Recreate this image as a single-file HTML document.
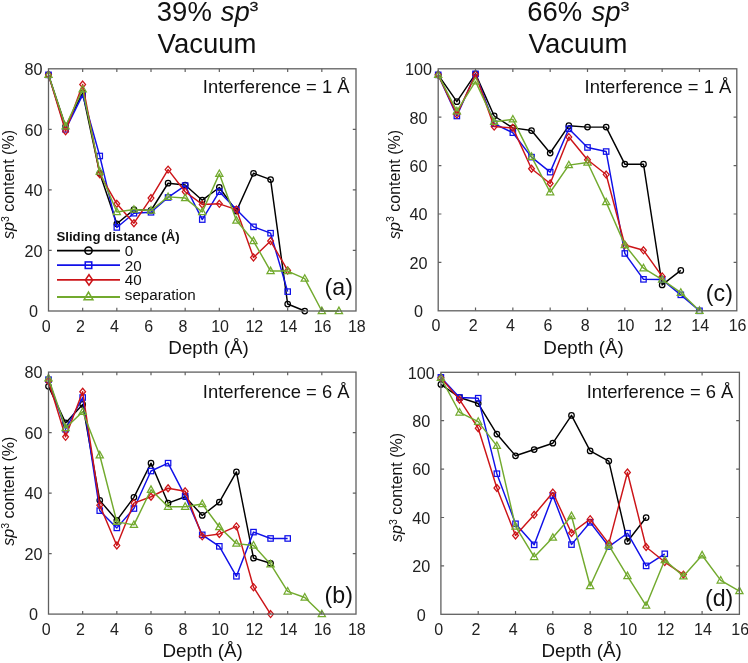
<!DOCTYPE html>
<html><head><meta charset="utf-8"><style>
html,body{margin:0;padding:0;background:#fff;}
svg{display:block;will-change:transform;}
text{font-family:"Liberation Sans", sans-serif;}
</style></head><body>
<svg width="748" height="663" viewBox="0 0 748 663">
<rect width="748" height="663" fill="#fff"/>
<g>
<polyline points="48.50,74.86 65.58,126.32 82.67,93.02 99.75,173.25 116.83,223.81 133.92,209.58 151.00,210.49 168.08,183.24 185.17,185.06 202.25,200.19 219.33,187.48 236.42,211.09 253.50,173.25 270.58,179.61 287.67,304.04 304.75,311.00" fill="none" stroke="#000000" stroke-width="1.45" stroke-linejoin="round"/>
<circle cx="48.50" cy="74.86" r="2.75" fill="none" stroke="#000000" stroke-width="1.25"/>
<circle cx="65.58" cy="126.32" r="2.75" fill="none" stroke="#000000" stroke-width="1.25"/>
<circle cx="82.67" cy="93.02" r="2.75" fill="none" stroke="#000000" stroke-width="1.25"/>
<circle cx="99.75" cy="173.25" r="2.75" fill="none" stroke="#000000" stroke-width="1.25"/>
<circle cx="116.83" cy="223.81" r="2.75" fill="none" stroke="#000000" stroke-width="1.25"/>
<circle cx="133.92" cy="209.58" r="2.75" fill="none" stroke="#000000" stroke-width="1.25"/>
<circle cx="151.00" cy="210.49" r="2.75" fill="none" stroke="#000000" stroke-width="1.25"/>
<circle cx="168.08" cy="183.24" r="2.75" fill="none" stroke="#000000" stroke-width="1.25"/>
<circle cx="185.17" cy="185.06" r="2.75" fill="none" stroke="#000000" stroke-width="1.25"/>
<circle cx="202.25" cy="200.19" r="2.75" fill="none" stroke="#000000" stroke-width="1.25"/>
<circle cx="219.33" cy="187.48" r="2.75" fill="none" stroke="#000000" stroke-width="1.25"/>
<circle cx="236.42" cy="211.09" r="2.75" fill="none" stroke="#000000" stroke-width="1.25"/>
<circle cx="253.50" cy="173.25" r="2.75" fill="none" stroke="#000000" stroke-width="1.25"/>
<circle cx="270.58" cy="179.61" r="2.75" fill="none" stroke="#000000" stroke-width="1.25"/>
<circle cx="287.67" cy="304.04" r="2.75" fill="none" stroke="#000000" stroke-width="1.25"/>
<circle cx="304.75" cy="311.00" r="2.75" fill="none" stroke="#000000" stroke-width="1.25"/>
<polyline points="48.50,74.86 65.58,129.35 82.67,94.84 99.75,155.99 116.83,227.44 133.92,213.21 151.00,212.30 168.08,197.47 185.17,185.66 202.25,219.57 219.33,191.72 236.42,209.58 253.50,226.84 270.58,233.19 287.67,291.62" fill="none" stroke="#1010e8" stroke-width="1.45" stroke-linejoin="round"/>
<rect x="45.80" y="72.16" width="5.40" height="5.40" fill="none" stroke="#1010e8" stroke-width="1.25"/>
<rect x="62.88" y="126.65" width="5.40" height="5.40" fill="none" stroke="#1010e8" stroke-width="1.25"/>
<rect x="79.97" y="92.14" width="5.40" height="5.40" fill="none" stroke="#1010e8" stroke-width="1.25"/>
<rect x="97.05" y="153.29" width="5.40" height="5.40" fill="none" stroke="#1010e8" stroke-width="1.25"/>
<rect x="114.13" y="224.74" width="5.40" height="5.40" fill="none" stroke="#1010e8" stroke-width="1.25"/>
<rect x="131.22" y="210.51" width="5.40" height="5.40" fill="none" stroke="#1010e8" stroke-width="1.25"/>
<rect x="148.30" y="209.60" width="5.40" height="5.40" fill="none" stroke="#1010e8" stroke-width="1.25"/>
<rect x="165.38" y="194.77" width="5.40" height="5.40" fill="none" stroke="#1010e8" stroke-width="1.25"/>
<rect x="182.47" y="182.96" width="5.40" height="5.40" fill="none" stroke="#1010e8" stroke-width="1.25"/>
<rect x="199.55" y="216.87" width="5.40" height="5.40" fill="none" stroke="#1010e8" stroke-width="1.25"/>
<rect x="216.63" y="189.02" width="5.40" height="5.40" fill="none" stroke="#1010e8" stroke-width="1.25"/>
<rect x="233.72" y="206.88" width="5.40" height="5.40" fill="none" stroke="#1010e8" stroke-width="1.25"/>
<rect x="250.80" y="224.14" width="5.40" height="5.40" fill="none" stroke="#1010e8" stroke-width="1.25"/>
<rect x="267.88" y="230.49" width="5.40" height="5.40" fill="none" stroke="#1010e8" stroke-width="1.25"/>
<rect x="284.97" y="288.92" width="5.40" height="5.40" fill="none" stroke="#1010e8" stroke-width="1.25"/>
<polyline points="48.50,74.86 65.58,131.17 82.67,84.54 99.75,174.16 116.83,203.83 133.92,223.20 151.00,198.07 168.08,169.62 185.17,191.72 202.25,204.43 219.33,203.83 236.42,209.58 253.50,257.41 270.58,241.06 287.67,270.43" fill="none" stroke="#cc1418" stroke-width="1.45" stroke-linejoin="round"/>
<path d="M48.50 71.36L51.40 74.86L48.50 78.36L45.60 74.86Z" fill="none" stroke="#cc1418" stroke-width="1.25"/>
<path d="M65.58 127.67L68.48 131.17L65.58 134.67L62.68 131.17Z" fill="none" stroke="#cc1418" stroke-width="1.25"/>
<path d="M82.67 81.04L85.57 84.54L82.67 88.04L79.77 84.54Z" fill="none" stroke="#cc1418" stroke-width="1.25"/>
<path d="M99.75 170.66L102.65 174.16L99.75 177.66L96.85 174.16Z" fill="none" stroke="#cc1418" stroke-width="1.25"/>
<path d="M116.83 200.33L119.73 203.83L116.83 207.33L113.93 203.83Z" fill="none" stroke="#cc1418" stroke-width="1.25"/>
<path d="M133.92 219.70L136.82 223.20L133.92 226.70L131.02 223.20Z" fill="none" stroke="#cc1418" stroke-width="1.25"/>
<path d="M151.00 194.57L153.90 198.07L151.00 201.57L148.10 198.07Z" fill="none" stroke="#cc1418" stroke-width="1.25"/>
<path d="M168.08 166.12L170.98 169.62L168.08 173.12L165.18 169.62Z" fill="none" stroke="#cc1418" stroke-width="1.25"/>
<path d="M185.17 188.22L188.07 191.72L185.17 195.22L182.27 191.72Z" fill="none" stroke="#cc1418" stroke-width="1.25"/>
<path d="M202.25 200.93L205.15 204.43L202.25 207.93L199.35 204.43Z" fill="none" stroke="#cc1418" stroke-width="1.25"/>
<path d="M219.33 200.33L222.23 203.83L219.33 207.33L216.43 203.83Z" fill="none" stroke="#cc1418" stroke-width="1.25"/>
<path d="M236.42 206.08L239.32 209.58L236.42 213.08L233.52 209.58Z" fill="none" stroke="#cc1418" stroke-width="1.25"/>
<path d="M253.50 253.91L256.40 257.41L253.50 260.91L250.60 257.41Z" fill="none" stroke="#cc1418" stroke-width="1.25"/>
<path d="M270.58 237.56L273.48 241.06L270.58 244.56L267.68 241.06Z" fill="none" stroke="#cc1418" stroke-width="1.25"/>
<path d="M287.67 266.93L290.57 270.43L287.67 273.93L284.77 270.43Z" fill="none" stroke="#cc1418" stroke-width="1.25"/>
<polyline points="48.50,74.86 65.58,126.32 82.67,89.39 99.75,171.43 116.83,212.00 133.92,209.58 151.00,210.49 168.08,196.86 185.17,198.07 202.25,212.00 219.33,173.85 236.42,220.48 253.50,241.06 270.58,271.04 287.67,271.04 304.75,278.61 321.83,311.00 338.92,311.00" fill="none" stroke="#72aa2e" stroke-width="1.45" stroke-linejoin="round"/>
<path d="M48.50 70.96L52.10 77.46L44.90 77.46Z" fill="none" stroke="#72aa2e" stroke-width="1.25" stroke-linejoin="miter"/>
<path d="M65.58 122.42L69.18 128.92L61.98 128.92Z" fill="none" stroke="#72aa2e" stroke-width="1.25" stroke-linejoin="miter"/>
<path d="M82.67 85.49L86.27 91.99L79.07 91.99Z" fill="none" stroke="#72aa2e" stroke-width="1.25" stroke-linejoin="miter"/>
<path d="M99.75 167.53L103.35 174.03L96.15 174.03Z" fill="none" stroke="#72aa2e" stroke-width="1.25" stroke-linejoin="miter"/>
<path d="M116.83 208.10L120.43 214.60L113.23 214.60Z" fill="none" stroke="#72aa2e" stroke-width="1.25" stroke-linejoin="miter"/>
<path d="M133.92 205.68L137.52 212.18L130.32 212.18Z" fill="none" stroke="#72aa2e" stroke-width="1.25" stroke-linejoin="miter"/>
<path d="M151.00 206.59L154.60 213.09L147.40 213.09Z" fill="none" stroke="#72aa2e" stroke-width="1.25" stroke-linejoin="miter"/>
<path d="M168.08 192.96L171.68 199.46L164.48 199.46Z" fill="none" stroke="#72aa2e" stroke-width="1.25" stroke-linejoin="miter"/>
<path d="M185.17 194.17L188.77 200.67L181.57 200.67Z" fill="none" stroke="#72aa2e" stroke-width="1.25" stroke-linejoin="miter"/>
<path d="M202.25 208.10L205.85 214.60L198.65 214.60Z" fill="none" stroke="#72aa2e" stroke-width="1.25" stroke-linejoin="miter"/>
<path d="M219.33 169.95L222.93 176.45L215.73 176.45Z" fill="none" stroke="#72aa2e" stroke-width="1.25" stroke-linejoin="miter"/>
<path d="M236.42 216.58L240.02 223.08L232.82 223.08Z" fill="none" stroke="#72aa2e" stroke-width="1.25" stroke-linejoin="miter"/>
<path d="M253.50 237.16L257.10 243.66L249.90 243.66Z" fill="none" stroke="#72aa2e" stroke-width="1.25" stroke-linejoin="miter"/>
<path d="M270.58 267.14L274.18 273.64L266.98 273.64Z" fill="none" stroke="#72aa2e" stroke-width="1.25" stroke-linejoin="miter"/>
<path d="M287.67 267.14L291.27 273.64L284.07 273.64Z" fill="none" stroke="#72aa2e" stroke-width="1.25" stroke-linejoin="miter"/>
<path d="M304.75 274.71L308.35 281.21L301.15 281.21Z" fill="none" stroke="#72aa2e" stroke-width="1.25" stroke-linejoin="miter"/>
<path d="M321.83 307.10L325.43 313.60L318.23 313.60Z" fill="none" stroke="#72aa2e" stroke-width="1.25" stroke-linejoin="miter"/>
<path d="M338.92 307.10L342.52 313.60L335.32 313.60Z" fill="none" stroke="#72aa2e" stroke-width="1.25" stroke-linejoin="miter"/>
</g>
<rect x="48.5" y="68.8" width="307.50" height="242.20" fill="none" stroke="#606060" stroke-width="1.3"/>
<path d="M82.67 311.0v-3.2M82.67 68.8v3.2M116.83 311.0v-3.2M116.83 68.8v3.2M151.00 311.0v-3.2M151.00 68.8v3.2M185.17 311.0v-3.2M185.17 68.8v3.2M219.33 311.0v-3.2M219.33 68.8v3.2M253.50 311.0v-3.2M253.50 68.8v3.2M287.67 311.0v-3.2M287.67 68.8v3.2M321.83 311.0v-3.2M321.83 68.8v3.2M48.5 250.45h3.2M356.0 250.45h-3.2M48.5 189.90h3.2M356.0 189.90h-3.2M48.5 129.35h3.2M356.0 129.35h-3.2" stroke="#606060" stroke-width="1.2" fill="none"/>
<text x="46.20" y="331.60" text-anchor="middle" font-size="16" fill="#222">0</text>
<text x="80.37" y="331.60" text-anchor="middle" font-size="16" fill="#222">2</text>
<text x="114.53" y="331.60" text-anchor="middle" font-size="16" fill="#222">4</text>
<text x="148.70" y="331.60" text-anchor="middle" font-size="16" fill="#222">6</text>
<text x="182.87" y="331.60" text-anchor="middle" font-size="16" fill="#222">8</text>
<text x="220.13" y="331.60" text-anchor="middle" font-size="16" fill="#222">10</text>
<text x="254.30" y="331.60" text-anchor="middle" font-size="16" fill="#222">12</text>
<text x="288.47" y="331.60" text-anchor="middle" font-size="16" fill="#222">14</text>
<text x="322.63" y="331.60" text-anchor="middle" font-size="16" fill="#222">16</text>
<text x="356.80" y="331.60" text-anchor="middle" font-size="16" fill="#222">18</text>
<text x="33.40" y="317.30" text-anchor="middle" font-size="16.2" fill="#222">0</text>
<text x="33.40" y="256.75" text-anchor="middle" font-size="16.2" fill="#222">20</text>
<text x="33.40" y="196.20" text-anchor="middle" font-size="16.2" fill="#222">40</text>
<text x="33.40" y="135.65" text-anchor="middle" font-size="16.2" fill="#222">60</text>
<text x="33.40" y="75.10" text-anchor="middle" font-size="16.2" fill="#222">80</text>
<text x="208.50" y="353.50" text-anchor="middle" font-size="18.8" fill="#111">Depth (Å)</text>
<text transform="translate(14.30,184.50) rotate(-90)" text-anchor="middle" font-size="16" fill="#111"><tspan font-style="italic">sp</tspan><tspan font-size="10.5" dy="-5.8">3</tspan><tspan dy="5.8"> content (%)</tspan></text>
<text x="349.50" y="92.50" text-anchor="end" font-size="18.4" fill="#111">Interference = 1 Å</text>
<text x="352.90" y="295.10" text-anchor="end" font-size="23.2" fill="#111">(a)</text>
<g>
<polyline points="48.50,386.32 65.58,422.92 82.67,404.47 99.75,500.36 116.83,520.33 133.92,497.34 151.00,463.15 168.08,503.08 185.17,496.73 202.25,515.49 219.33,502.18 236.42,471.93 253.50,558.14 270.58,563.28" fill="none" stroke="#000000" stroke-width="1.45" stroke-linejoin="round"/>
<circle cx="48.50" cy="386.32" r="2.75" fill="none" stroke="#000000" stroke-width="1.25"/>
<circle cx="65.58" cy="422.92" r="2.75" fill="none" stroke="#000000" stroke-width="1.25"/>
<circle cx="82.67" cy="404.47" r="2.75" fill="none" stroke="#000000" stroke-width="1.25"/>
<circle cx="99.75" cy="500.36" r="2.75" fill="none" stroke="#000000" stroke-width="1.25"/>
<circle cx="116.83" cy="520.33" r="2.75" fill="none" stroke="#000000" stroke-width="1.25"/>
<circle cx="133.92" cy="497.34" r="2.75" fill="none" stroke="#000000" stroke-width="1.25"/>
<circle cx="151.00" cy="463.15" r="2.75" fill="none" stroke="#000000" stroke-width="1.25"/>
<circle cx="168.08" cy="503.08" r="2.75" fill="none" stroke="#000000" stroke-width="1.25"/>
<circle cx="185.17" cy="496.73" r="2.75" fill="none" stroke="#000000" stroke-width="1.25"/>
<circle cx="202.25" cy="515.49" r="2.75" fill="none" stroke="#000000" stroke-width="1.25"/>
<circle cx="219.33" cy="502.18" r="2.75" fill="none" stroke="#000000" stroke-width="1.25"/>
<circle cx="236.42" cy="471.93" r="2.75" fill="none" stroke="#000000" stroke-width="1.25"/>
<circle cx="253.50" cy="558.14" r="2.75" fill="none" stroke="#000000" stroke-width="1.25"/>
<circle cx="270.58" cy="563.28" r="2.75" fill="none" stroke="#000000" stroke-width="1.25"/>
<polyline points="48.50,379.66 65.58,429.27 82.67,397.51 99.75,510.64 116.83,527.89 133.92,508.53 151.00,471.02 168.08,463.15 185.17,496.12 202.25,534.85 219.33,546.34 236.42,576.29 253.50,532.12 270.58,538.48 287.67,538.48" fill="none" stroke="#1010e8" stroke-width="1.45" stroke-linejoin="round"/>
<rect x="45.80" y="376.96" width="5.40" height="5.40" fill="none" stroke="#1010e8" stroke-width="1.25"/>
<rect x="62.88" y="426.57" width="5.40" height="5.40" fill="none" stroke="#1010e8" stroke-width="1.25"/>
<rect x="79.97" y="394.81" width="5.40" height="5.40" fill="none" stroke="#1010e8" stroke-width="1.25"/>
<rect x="97.05" y="507.94" width="5.40" height="5.40" fill="none" stroke="#1010e8" stroke-width="1.25"/>
<rect x="114.13" y="525.19" width="5.40" height="5.40" fill="none" stroke="#1010e8" stroke-width="1.25"/>
<rect x="131.22" y="505.83" width="5.40" height="5.40" fill="none" stroke="#1010e8" stroke-width="1.25"/>
<rect x="148.30" y="468.32" width="5.40" height="5.40" fill="none" stroke="#1010e8" stroke-width="1.25"/>
<rect x="165.38" y="460.45" width="5.40" height="5.40" fill="none" stroke="#1010e8" stroke-width="1.25"/>
<rect x="182.47" y="493.43" width="5.40" height="5.40" fill="none" stroke="#1010e8" stroke-width="1.25"/>
<rect x="199.55" y="532.14" width="5.40" height="5.40" fill="none" stroke="#1010e8" stroke-width="1.25"/>
<rect x="216.63" y="543.64" width="5.40" height="5.40" fill="none" stroke="#1010e8" stroke-width="1.25"/>
<rect x="233.72" y="573.59" width="5.40" height="5.40" fill="none" stroke="#1010e8" stroke-width="1.25"/>
<rect x="250.80" y="529.42" width="5.40" height="5.40" fill="none" stroke="#1010e8" stroke-width="1.25"/>
<rect x="267.88" y="535.77" width="5.40" height="5.40" fill="none" stroke="#1010e8" stroke-width="1.25"/>
<rect x="284.97" y="535.77" width="5.40" height="5.40" fill="none" stroke="#1010e8" stroke-width="1.25"/>
<polyline points="48.50,381.18 65.58,436.84 82.67,391.76 99.75,505.20 116.83,545.43 133.92,503.08 151.00,496.73 168.08,488.26 185.17,491.29 202.25,536.36 219.33,533.94 236.42,526.38 253.50,587.18 270.58,614.10" fill="none" stroke="#cc1418" stroke-width="1.45" stroke-linejoin="round"/>
<path d="M48.50 377.68L51.40 381.18L48.50 384.68L45.60 381.18Z" fill="none" stroke="#cc1418" stroke-width="1.25"/>
<path d="M65.58 433.34L68.48 436.84L65.58 440.34L62.68 436.84Z" fill="none" stroke="#cc1418" stroke-width="1.25"/>
<path d="M82.67 388.26L85.57 391.76L82.67 395.26L79.77 391.76Z" fill="none" stroke="#cc1418" stroke-width="1.25"/>
<path d="M99.75 501.70L102.65 505.20L99.75 508.70L96.85 505.20Z" fill="none" stroke="#cc1418" stroke-width="1.25"/>
<path d="M116.83 541.93L119.73 545.43L116.83 548.93L113.93 545.43Z" fill="none" stroke="#cc1418" stroke-width="1.25"/>
<path d="M133.92 499.58L136.82 503.08L133.92 506.58L131.02 503.08Z" fill="none" stroke="#cc1418" stroke-width="1.25"/>
<path d="M151.00 493.23L153.90 496.73L151.00 500.23L148.10 496.73Z" fill="none" stroke="#cc1418" stroke-width="1.25"/>
<path d="M168.08 484.76L170.98 488.26L168.08 491.76L165.18 488.26Z" fill="none" stroke="#cc1418" stroke-width="1.25"/>
<path d="M185.17 487.79L188.07 491.29L185.17 494.79L182.27 491.29Z" fill="none" stroke="#cc1418" stroke-width="1.25"/>
<path d="M202.25 532.86L205.15 536.36L202.25 539.86L199.35 536.36Z" fill="none" stroke="#cc1418" stroke-width="1.25"/>
<path d="M219.33 530.44L222.23 533.94L219.33 537.44L216.43 533.94Z" fill="none" stroke="#cc1418" stroke-width="1.25"/>
<path d="M236.42 522.88L239.32 526.38L236.42 529.88L233.52 526.38Z" fill="none" stroke="#cc1418" stroke-width="1.25"/>
<path d="M253.50 583.68L256.40 587.18L253.50 590.68L250.60 587.18Z" fill="none" stroke="#cc1418" stroke-width="1.25"/>
<path d="M270.58 610.60L273.48 614.10L270.58 617.60L267.68 614.10Z" fill="none" stroke="#cc1418" stroke-width="1.25"/>
<polyline points="48.50,378.15 65.58,428.06 82.67,411.73 99.75,455.29 116.83,521.84 133.92,524.86 151.00,489.77 168.08,506.71 185.17,506.71 202.25,503.99 219.33,526.98 236.42,543.62 253.50,545.43 270.58,564.19 287.67,591.41 304.75,597.46 321.83,614.10" fill="none" stroke="#72aa2e" stroke-width="1.45" stroke-linejoin="round"/>
<path d="M48.50 374.25L52.10 380.75L44.90 380.75Z" fill="none" stroke="#72aa2e" stroke-width="1.25" stroke-linejoin="miter"/>
<path d="M65.58 424.16L69.18 430.66L61.98 430.66Z" fill="none" stroke="#72aa2e" stroke-width="1.25" stroke-linejoin="miter"/>
<path d="M82.67 407.83L86.27 414.33L79.07 414.33Z" fill="none" stroke="#72aa2e" stroke-width="1.25" stroke-linejoin="miter"/>
<path d="M99.75 451.39L103.35 457.89L96.15 457.89Z" fill="none" stroke="#72aa2e" stroke-width="1.25" stroke-linejoin="miter"/>
<path d="M116.83 517.94L120.43 524.44L113.23 524.44Z" fill="none" stroke="#72aa2e" stroke-width="1.25" stroke-linejoin="miter"/>
<path d="M133.92 520.96L137.52 527.46L130.32 527.46Z" fill="none" stroke="#72aa2e" stroke-width="1.25" stroke-linejoin="miter"/>
<path d="M151.00 485.87L154.60 492.37L147.40 492.37Z" fill="none" stroke="#72aa2e" stroke-width="1.25" stroke-linejoin="miter"/>
<path d="M168.08 502.81L171.68 509.31L164.48 509.31Z" fill="none" stroke="#72aa2e" stroke-width="1.25" stroke-linejoin="miter"/>
<path d="M185.17 502.81L188.77 509.31L181.57 509.31Z" fill="none" stroke="#72aa2e" stroke-width="1.25" stroke-linejoin="miter"/>
<path d="M202.25 500.09L205.85 506.59L198.65 506.59Z" fill="none" stroke="#72aa2e" stroke-width="1.25" stroke-linejoin="miter"/>
<path d="M219.33 523.08L222.93 529.58L215.73 529.58Z" fill="none" stroke="#72aa2e" stroke-width="1.25" stroke-linejoin="miter"/>
<path d="M236.42 539.72L240.02 546.22L232.82 546.22Z" fill="none" stroke="#72aa2e" stroke-width="1.25" stroke-linejoin="miter"/>
<path d="M253.50 541.53L257.10 548.03L249.90 548.03Z" fill="none" stroke="#72aa2e" stroke-width="1.25" stroke-linejoin="miter"/>
<path d="M270.58 560.29L274.18 566.79L266.98 566.79Z" fill="none" stroke="#72aa2e" stroke-width="1.25" stroke-linejoin="miter"/>
<path d="M287.67 587.51L291.27 594.01L284.07 594.01Z" fill="none" stroke="#72aa2e" stroke-width="1.25" stroke-linejoin="miter"/>
<path d="M304.75 593.56L308.35 600.06L301.15 600.06Z" fill="none" stroke="#72aa2e" stroke-width="1.25" stroke-linejoin="miter"/>
<path d="M321.83 610.20L325.43 616.70L318.23 616.70Z" fill="none" stroke="#72aa2e" stroke-width="1.25" stroke-linejoin="miter"/>
</g>
<rect x="48.5" y="372.1" width="307.50" height="242.00" fill="none" stroke="#606060" stroke-width="1.3"/>
<path d="M82.67 614.1v-3.2M82.67 372.1v3.2M116.83 614.1v-3.2M116.83 372.1v3.2M151.00 614.1v-3.2M151.00 372.1v3.2M185.17 614.1v-3.2M185.17 372.1v3.2M219.33 614.1v-3.2M219.33 372.1v3.2M253.50 614.1v-3.2M253.50 372.1v3.2M287.67 614.1v-3.2M287.67 372.1v3.2M321.83 614.1v-3.2M321.83 372.1v3.2M48.5 553.60h3.2M356.0 553.60h-3.2M48.5 493.10h3.2M356.0 493.10h-3.2M48.5 432.60h3.2M356.0 432.60h-3.2" stroke="#606060" stroke-width="1.2" fill="none"/>
<text x="46.20" y="634.70" text-anchor="middle" font-size="16" fill="#222">0</text>
<text x="80.37" y="634.70" text-anchor="middle" font-size="16" fill="#222">2</text>
<text x="114.53" y="634.70" text-anchor="middle" font-size="16" fill="#222">4</text>
<text x="148.70" y="634.70" text-anchor="middle" font-size="16" fill="#222">6</text>
<text x="182.87" y="634.70" text-anchor="middle" font-size="16" fill="#222">8</text>
<text x="220.13" y="634.70" text-anchor="middle" font-size="16" fill="#222">10</text>
<text x="254.30" y="634.70" text-anchor="middle" font-size="16" fill="#222">12</text>
<text x="288.47" y="634.70" text-anchor="middle" font-size="16" fill="#222">14</text>
<text x="322.63" y="634.70" text-anchor="middle" font-size="16" fill="#222">16</text>
<text x="356.80" y="634.70" text-anchor="middle" font-size="16" fill="#222">18</text>
<text x="33.40" y="620.40" text-anchor="middle" font-size="16.2" fill="#222">0</text>
<text x="33.40" y="559.90" text-anchor="middle" font-size="16.2" fill="#222">20</text>
<text x="33.40" y="499.40" text-anchor="middle" font-size="16.2" fill="#222">40</text>
<text x="33.40" y="438.90" text-anchor="middle" font-size="16.2" fill="#222">60</text>
<text x="33.40" y="378.40" text-anchor="middle" font-size="16.2" fill="#222">80</text>
<text x="202.60" y="657.30" text-anchor="middle" font-size="18.8" fill="#111">Depth (Å)</text>
<text transform="translate(14.30,491.20) rotate(-90)" text-anchor="middle" font-size="16" fill="#111"><tspan font-style="italic">sp</tspan><tspan font-size="10.5" dy="-5.8">3</tspan><tspan dy="5.8"> content (%)</tspan></text>
<text x="349.50" y="398.10" text-anchor="end" font-size="18.4" fill="#111">Interference = 6 Å</text>
<text x="352.90" y="603.30" text-anchor="end" font-size="23.2" fill="#111">(b)</text>
<g>
<polyline points="438.20,74.85 456.86,101.71 475.52,73.88 494.19,115.99 512.85,127.85 531.51,130.51 550.17,153.02 568.84,125.67 587.50,127.12 606.16,127.12 624.82,164.15 643.49,164.15 662.15,284.91 680.81,270.39" fill="none" stroke="#000000" stroke-width="1.45" stroke-linejoin="round"/>
<circle cx="438.20" cy="74.85" r="2.75" fill="none" stroke="#000000" stroke-width="1.25"/>
<circle cx="456.86" cy="101.71" r="2.75" fill="none" stroke="#000000" stroke-width="1.25"/>
<circle cx="475.52" cy="73.88" r="2.75" fill="none" stroke="#000000" stroke-width="1.25"/>
<circle cx="494.19" cy="115.99" r="2.75" fill="none" stroke="#000000" stroke-width="1.25"/>
<circle cx="512.85" cy="127.85" r="2.75" fill="none" stroke="#000000" stroke-width="1.25"/>
<circle cx="531.51" cy="130.51" r="2.75" fill="none" stroke="#000000" stroke-width="1.25"/>
<circle cx="550.17" cy="153.02" r="2.75" fill="none" stroke="#000000" stroke-width="1.25"/>
<circle cx="568.84" cy="125.67" r="2.75" fill="none" stroke="#000000" stroke-width="1.25"/>
<circle cx="587.50" cy="127.12" r="2.75" fill="none" stroke="#000000" stroke-width="1.25"/>
<circle cx="606.16" cy="127.12" r="2.75" fill="none" stroke="#000000" stroke-width="1.25"/>
<circle cx="624.82" cy="164.15" r="2.75" fill="none" stroke="#000000" stroke-width="1.25"/>
<circle cx="643.49" cy="164.15" r="2.75" fill="none" stroke="#000000" stroke-width="1.25"/>
<circle cx="662.15" cy="284.91" r="2.75" fill="none" stroke="#000000" stroke-width="1.25"/>
<circle cx="680.81" cy="270.39" r="2.75" fill="none" stroke="#000000" stroke-width="1.25"/>
<polyline points="438.20,74.85 456.86,115.99 475.52,73.88 494.19,123.73 512.85,132.69 531.51,157.13 550.17,172.13 568.84,128.82 587.50,147.45 606.16,151.56 624.82,253.45 643.49,279.34 662.15,279.58 680.81,294.83 699.47,310.80" fill="none" stroke="#1010e8" stroke-width="1.45" stroke-linejoin="round"/>
<rect x="435.50" y="72.15" width="5.40" height="5.40" fill="none" stroke="#1010e8" stroke-width="1.25"/>
<rect x="454.16" y="113.29" width="5.40" height="5.40" fill="none" stroke="#1010e8" stroke-width="1.25"/>
<rect x="472.82" y="71.18" width="5.40" height="5.40" fill="none" stroke="#1010e8" stroke-width="1.25"/>
<rect x="491.49" y="121.03" width="5.40" height="5.40" fill="none" stroke="#1010e8" stroke-width="1.25"/>
<rect x="510.15" y="129.99" width="5.40" height="5.40" fill="none" stroke="#1010e8" stroke-width="1.25"/>
<rect x="528.81" y="154.43" width="5.40" height="5.40" fill="none" stroke="#1010e8" stroke-width="1.25"/>
<rect x="547.47" y="169.43" width="5.40" height="5.40" fill="none" stroke="#1010e8" stroke-width="1.25"/>
<rect x="566.14" y="126.12" width="5.40" height="5.40" fill="none" stroke="#1010e8" stroke-width="1.25"/>
<rect x="584.80" y="144.75" width="5.40" height="5.40" fill="none" stroke="#1010e8" stroke-width="1.25"/>
<rect x="603.46" y="148.86" width="5.40" height="5.40" fill="none" stroke="#1010e8" stroke-width="1.25"/>
<rect x="622.12" y="250.75" width="5.40" height="5.40" fill="none" stroke="#1010e8" stroke-width="1.25"/>
<rect x="640.79" y="276.64" width="5.40" height="5.40" fill="none" stroke="#1010e8" stroke-width="1.25"/>
<rect x="659.45" y="276.88" width="5.40" height="5.40" fill="none" stroke="#1010e8" stroke-width="1.25"/>
<rect x="678.11" y="292.13" width="5.40" height="5.40" fill="none" stroke="#1010e8" stroke-width="1.25"/>
<rect x="696.77" y="308.10" width="5.40" height="5.40" fill="none" stroke="#1010e8" stroke-width="1.25"/>
<polyline points="438.20,74.85 456.86,114.54 475.52,74.61 494.19,126.64 512.85,127.85 531.51,168.75 550.17,183.51 568.84,137.04 587.50,159.79 606.16,174.55 624.82,244.98 643.49,250.30 662.15,276.44" fill="none" stroke="#cc1418" stroke-width="1.45" stroke-linejoin="round"/>
<path d="M438.20 71.35L441.10 74.85L438.20 78.35L435.30 74.85Z" fill="none" stroke="#cc1418" stroke-width="1.25"/>
<path d="M456.86 111.04L459.76 114.54L456.86 118.04L453.96 114.54Z" fill="none" stroke="#cc1418" stroke-width="1.25"/>
<path d="M475.52 71.11L478.42 74.61L475.52 78.11L472.62 74.61Z" fill="none" stroke="#cc1418" stroke-width="1.25"/>
<path d="M494.19 123.14L497.09 126.64L494.19 130.14L491.29 126.64Z" fill="none" stroke="#cc1418" stroke-width="1.25"/>
<path d="M512.85 124.35L515.75 127.85L512.85 131.35L509.95 127.85Z" fill="none" stroke="#cc1418" stroke-width="1.25"/>
<path d="M531.51 165.25L534.41 168.75L531.51 172.25L528.61 168.75Z" fill="none" stroke="#cc1418" stroke-width="1.25"/>
<path d="M550.17 180.01L553.07 183.51L550.17 187.01L547.27 183.51Z" fill="none" stroke="#cc1418" stroke-width="1.25"/>
<path d="M568.84 133.54L571.74 137.04L568.84 140.54L565.94 137.04Z" fill="none" stroke="#cc1418" stroke-width="1.25"/>
<path d="M587.50 156.29L590.40 159.79L587.50 163.29L584.60 159.79Z" fill="none" stroke="#cc1418" stroke-width="1.25"/>
<path d="M606.16 171.05L609.06 174.55L606.16 178.05L603.26 174.55Z" fill="none" stroke="#cc1418" stroke-width="1.25"/>
<path d="M624.82 241.48L627.72 244.98L624.82 248.48L621.92 244.98Z" fill="none" stroke="#cc1418" stroke-width="1.25"/>
<path d="M643.49 246.80L646.39 250.30L643.49 253.80L640.59 250.30Z" fill="none" stroke="#cc1418" stroke-width="1.25"/>
<path d="M662.15 272.94L665.05 276.44L662.15 279.94L659.25 276.44Z" fill="none" stroke="#cc1418" stroke-width="1.25"/>
<polyline points="438.20,74.85 456.86,111.15 475.52,81.38 494.19,121.80 512.85,119.38 531.51,156.65 550.17,192.22 568.84,165.12 587.50,162.45 606.16,202.14 624.82,244.98 643.49,268.21 662.15,279.58 680.81,292.65 699.47,310.80" fill="none" stroke="#72aa2e" stroke-width="1.45" stroke-linejoin="round"/>
<path d="M438.20 70.95L441.80 77.45L434.60 77.45Z" fill="none" stroke="#72aa2e" stroke-width="1.25" stroke-linejoin="miter"/>
<path d="M456.86 107.25L460.46 113.75L453.26 113.75Z" fill="none" stroke="#72aa2e" stroke-width="1.25" stroke-linejoin="miter"/>
<path d="M475.52 77.48L479.12 83.98L471.92 83.98Z" fill="none" stroke="#72aa2e" stroke-width="1.25" stroke-linejoin="miter"/>
<path d="M494.19 117.90L497.79 124.40L490.59 124.40Z" fill="none" stroke="#72aa2e" stroke-width="1.25" stroke-linejoin="miter"/>
<path d="M512.85 115.48L516.45 121.98L509.25 121.98Z" fill="none" stroke="#72aa2e" stroke-width="1.25" stroke-linejoin="miter"/>
<path d="M531.51 152.75L535.11 159.25L527.91 159.25Z" fill="none" stroke="#72aa2e" stroke-width="1.25" stroke-linejoin="miter"/>
<path d="M550.17 188.32L553.77 194.82L546.57 194.82Z" fill="none" stroke="#72aa2e" stroke-width="1.25" stroke-linejoin="miter"/>
<path d="M568.84 161.22L572.44 167.72L565.24 167.72Z" fill="none" stroke="#72aa2e" stroke-width="1.25" stroke-linejoin="miter"/>
<path d="M587.50 158.55L591.10 165.05L583.90 165.05Z" fill="none" stroke="#72aa2e" stroke-width="1.25" stroke-linejoin="miter"/>
<path d="M606.16 198.24L609.76 204.74L602.56 204.74Z" fill="none" stroke="#72aa2e" stroke-width="1.25" stroke-linejoin="miter"/>
<path d="M624.82 241.08L628.42 247.58L621.22 247.58Z" fill="none" stroke="#72aa2e" stroke-width="1.25" stroke-linejoin="miter"/>
<path d="M643.49 264.31L647.09 270.81L639.89 270.81Z" fill="none" stroke="#72aa2e" stroke-width="1.25" stroke-linejoin="miter"/>
<path d="M662.15 275.68L665.75 282.18L658.55 282.18Z" fill="none" stroke="#72aa2e" stroke-width="1.25" stroke-linejoin="miter"/>
<path d="M680.81 288.75L684.41 295.25L677.21 295.25Z" fill="none" stroke="#72aa2e" stroke-width="1.25" stroke-linejoin="miter"/>
<path d="M699.47 306.90L703.07 313.40L695.87 313.40Z" fill="none" stroke="#72aa2e" stroke-width="1.25" stroke-linejoin="miter"/>
</g>
<rect x="438.2" y="68.8" width="298.60" height="242.00" fill="none" stroke="#606060" stroke-width="1.3"/>
<path d="M475.52 310.8v-3.2M475.52 68.8v3.2M512.85 310.8v-3.2M512.85 68.8v3.2M550.17 310.8v-3.2M550.17 68.8v3.2M587.50 310.8v-3.2M587.50 68.8v3.2M624.82 310.8v-3.2M624.82 68.8v3.2M662.15 310.8v-3.2M662.15 68.8v3.2M699.47 310.8v-3.2M699.47 68.8v3.2M438.2 262.40h3.2M736.8 262.40h-3.2M438.2 214.00h3.2M736.8 214.00h-3.2M438.2 165.60h3.2M736.8 165.60h-3.2M438.2 117.20h3.2M736.8 117.20h-3.2" stroke="#606060" stroke-width="1.2" fill="none"/>
<text x="435.90" y="331.40" text-anchor="middle" font-size="16" fill="#222">0</text>
<text x="473.22" y="331.40" text-anchor="middle" font-size="16" fill="#222">2</text>
<text x="510.55" y="331.40" text-anchor="middle" font-size="16" fill="#222">4</text>
<text x="547.88" y="331.40" text-anchor="middle" font-size="16" fill="#222">6</text>
<text x="585.20" y="331.40" text-anchor="middle" font-size="16" fill="#222">8</text>
<text x="625.62" y="331.40" text-anchor="middle" font-size="16" fill="#222">10</text>
<text x="662.95" y="331.40" text-anchor="middle" font-size="16" fill="#222">12</text>
<text x="700.27" y="331.40" text-anchor="middle" font-size="16" fill="#222">14</text>
<text x="737.60" y="331.40" text-anchor="middle" font-size="16" fill="#222">16</text>
<text x="418.60" y="317.10" text-anchor="middle" font-size="16.2" fill="#222">0</text>
<text x="418.60" y="268.70" text-anchor="middle" font-size="16.2" fill="#222">20</text>
<text x="418.60" y="220.30" text-anchor="middle" font-size="16.2" fill="#222">40</text>
<text x="418.60" y="171.90" text-anchor="middle" font-size="16.2" fill="#222">60</text>
<text x="418.60" y="123.50" text-anchor="middle" font-size="16.2" fill="#222">80</text>
<text x="418.60" y="75.10" text-anchor="middle" font-size="16.2" fill="#222">100</text>
<text x="583.50" y="353.50" text-anchor="middle" font-size="18.8" fill="#111">Depth (Å)</text>
<text transform="translate(399.60,184.40) rotate(-90)" text-anchor="middle" font-size="16" fill="#111"><tspan font-style="italic">sp</tspan><tspan font-size="10.5" dy="-5.8">3</tspan><tspan dy="5.8"> content (%)</tspan></text>
<text x="731.30" y="92.50" text-anchor="end" font-size="18.4" fill="#111">Interference = 1 Å</text>
<text x="732.90" y="301.30" text-anchor="end" font-size="23.2" fill="#111">(c)</text>
<g>
<polyline points="440.90,384.40 459.56,397.47 478.21,403.52 496.87,434.01 515.52,455.79 534.18,449.50 552.84,443.21 571.49,415.38 590.15,450.95 608.81,461.11 627.46,541.46 646.12,517.50" fill="none" stroke="#000000" stroke-width="1.45" stroke-linejoin="round"/>
<circle cx="440.90" cy="384.40" r="2.75" fill="none" stroke="#000000" stroke-width="1.25"/>
<circle cx="459.56" cy="397.47" r="2.75" fill="none" stroke="#000000" stroke-width="1.25"/>
<circle cx="478.21" cy="403.52" r="2.75" fill="none" stroke="#000000" stroke-width="1.25"/>
<circle cx="496.87" cy="434.01" r="2.75" fill="none" stroke="#000000" stroke-width="1.25"/>
<circle cx="515.52" cy="455.79" r="2.75" fill="none" stroke="#000000" stroke-width="1.25"/>
<circle cx="534.18" cy="449.50" r="2.75" fill="none" stroke="#000000" stroke-width="1.25"/>
<circle cx="552.84" cy="443.21" r="2.75" fill="none" stroke="#000000" stroke-width="1.25"/>
<circle cx="571.49" cy="415.38" r="2.75" fill="none" stroke="#000000" stroke-width="1.25"/>
<circle cx="590.15" cy="450.95" r="2.75" fill="none" stroke="#000000" stroke-width="1.25"/>
<circle cx="608.81" cy="461.11" r="2.75" fill="none" stroke="#000000" stroke-width="1.25"/>
<circle cx="627.46" cy="541.46" r="2.75" fill="none" stroke="#000000" stroke-width="1.25"/>
<circle cx="646.12" cy="517.50" r="2.75" fill="none" stroke="#000000" stroke-width="1.25"/>
<polyline points="440.90,377.38 459.56,397.47 478.21,398.19 496.87,473.70 515.52,523.79 534.18,544.85 552.84,495.72 571.49,544.60 590.15,522.34 608.81,546.54 627.46,533.23 646.12,565.90 664.77,553.80" fill="none" stroke="#1010e8" stroke-width="1.45" stroke-linejoin="round"/>
<rect x="438.20" y="374.68" width="5.40" height="5.40" fill="none" stroke="#1010e8" stroke-width="1.25"/>
<rect x="456.86" y="394.77" width="5.40" height="5.40" fill="none" stroke="#1010e8" stroke-width="1.25"/>
<rect x="475.51" y="395.49" width="5.40" height="5.40" fill="none" stroke="#1010e8" stroke-width="1.25"/>
<rect x="494.17" y="471.00" width="5.40" height="5.40" fill="none" stroke="#1010e8" stroke-width="1.25"/>
<rect x="512.82" y="521.09" width="5.40" height="5.40" fill="none" stroke="#1010e8" stroke-width="1.25"/>
<rect x="531.48" y="542.15" width="5.40" height="5.40" fill="none" stroke="#1010e8" stroke-width="1.25"/>
<rect x="550.14" y="493.02" width="5.40" height="5.40" fill="none" stroke="#1010e8" stroke-width="1.25"/>
<rect x="568.79" y="541.90" width="5.40" height="5.40" fill="none" stroke="#1010e8" stroke-width="1.25"/>
<rect x="587.45" y="519.64" width="5.40" height="5.40" fill="none" stroke="#1010e8" stroke-width="1.25"/>
<rect x="606.11" y="543.84" width="5.40" height="5.40" fill="none" stroke="#1010e8" stroke-width="1.25"/>
<rect x="624.76" y="530.53" width="5.40" height="5.40" fill="none" stroke="#1010e8" stroke-width="1.25"/>
<rect x="643.42" y="563.20" width="5.40" height="5.40" fill="none" stroke="#1010e8" stroke-width="1.25"/>
<rect x="662.07" y="551.10" width="5.40" height="5.40" fill="none" stroke="#1010e8" stroke-width="1.25"/>
<polyline points="440.90,377.87 459.56,399.65 478.21,428.20 496.87,487.98 515.52,535.41 534.18,514.84 552.84,492.57 571.49,532.99 590.15,519.19 608.81,543.64 627.46,472.49 646.12,547.02 664.77,562.03 683.43,574.61" fill="none" stroke="#cc1418" stroke-width="1.45" stroke-linejoin="round"/>
<path d="M440.90 374.37L443.80 377.87L440.90 381.37L438.00 377.87Z" fill="none" stroke="#cc1418" stroke-width="1.25"/>
<path d="M459.56 396.15L462.46 399.65L459.56 403.15L456.66 399.65Z" fill="none" stroke="#cc1418" stroke-width="1.25"/>
<path d="M478.21 424.70L481.11 428.20L478.21 431.70L475.31 428.20Z" fill="none" stroke="#cc1418" stroke-width="1.25"/>
<path d="M496.87 484.48L499.77 487.98L496.87 491.48L493.97 487.98Z" fill="none" stroke="#cc1418" stroke-width="1.25"/>
<path d="M515.52 531.91L518.42 535.41L515.52 538.91L512.62 535.41Z" fill="none" stroke="#cc1418" stroke-width="1.25"/>
<path d="M534.18 511.34L537.08 514.84L534.18 518.34L531.28 514.84Z" fill="none" stroke="#cc1418" stroke-width="1.25"/>
<path d="M552.84 489.07L555.74 492.57L552.84 496.07L549.94 492.57Z" fill="none" stroke="#cc1418" stroke-width="1.25"/>
<path d="M571.49 529.49L574.39 532.99L571.49 536.49L568.59 532.99Z" fill="none" stroke="#cc1418" stroke-width="1.25"/>
<path d="M590.15 515.69L593.05 519.19L590.15 522.69L587.25 519.19Z" fill="none" stroke="#cc1418" stroke-width="1.25"/>
<path d="M608.81 540.14L611.71 543.64L608.81 547.14L605.91 543.64Z" fill="none" stroke="#cc1418" stroke-width="1.25"/>
<path d="M627.46 468.99L630.36 472.49L627.46 475.99L624.56 472.49Z" fill="none" stroke="#cc1418" stroke-width="1.25"/>
<path d="M646.12 543.52L649.02 547.02L646.12 550.52L643.22 547.02Z" fill="none" stroke="#cc1418" stroke-width="1.25"/>
<path d="M664.77 558.53L667.67 562.03L664.77 565.53L661.88 562.03Z" fill="none" stroke="#cc1418" stroke-width="1.25"/>
<path d="M683.43 571.11L686.33 574.61L683.43 578.11L680.53 574.61Z" fill="none" stroke="#cc1418" stroke-width="1.25"/>
<polyline points="440.90,377.87 459.56,412.47 478.21,421.67 496.87,445.87 515.52,526.45 534.18,556.95 552.84,537.59 571.49,516.05 590.15,585.99 608.81,545.33 627.46,576.06 646.12,605.59 664.77,560.09 683.43,576.31 702.09,555.25 720.74,580.42 739.40,591.07" fill="none" stroke="#72aa2e" stroke-width="1.45" stroke-linejoin="round"/>
<path d="M440.90 373.97L444.50 380.47L437.30 380.47Z" fill="none" stroke="#72aa2e" stroke-width="1.25" stroke-linejoin="miter"/>
<path d="M459.56 408.57L463.16 415.07L455.96 415.07Z" fill="none" stroke="#72aa2e" stroke-width="1.25" stroke-linejoin="miter"/>
<path d="M478.21 417.77L481.81 424.27L474.61 424.27Z" fill="none" stroke="#72aa2e" stroke-width="1.25" stroke-linejoin="miter"/>
<path d="M496.87 441.97L500.47 448.47L493.27 448.47Z" fill="none" stroke="#72aa2e" stroke-width="1.25" stroke-linejoin="miter"/>
<path d="M515.52 522.55L519.12 529.05L511.92 529.05Z" fill="none" stroke="#72aa2e" stroke-width="1.25" stroke-linejoin="miter"/>
<path d="M534.18 553.05L537.78 559.55L530.58 559.55Z" fill="none" stroke="#72aa2e" stroke-width="1.25" stroke-linejoin="miter"/>
<path d="M552.84 533.69L556.44 540.19L549.24 540.19Z" fill="none" stroke="#72aa2e" stroke-width="1.25" stroke-linejoin="miter"/>
<path d="M571.49 512.15L575.09 518.65L567.89 518.65Z" fill="none" stroke="#72aa2e" stroke-width="1.25" stroke-linejoin="miter"/>
<path d="M590.15 582.09L593.75 588.59L586.55 588.59Z" fill="none" stroke="#72aa2e" stroke-width="1.25" stroke-linejoin="miter"/>
<path d="M608.81 541.43L612.41 547.93L605.21 547.93Z" fill="none" stroke="#72aa2e" stroke-width="1.25" stroke-linejoin="miter"/>
<path d="M627.46 572.16L631.06 578.66L623.86 578.66Z" fill="none" stroke="#72aa2e" stroke-width="1.25" stroke-linejoin="miter"/>
<path d="M646.12 601.69L649.72 608.19L642.52 608.19Z" fill="none" stroke="#72aa2e" stroke-width="1.25" stroke-linejoin="miter"/>
<path d="M664.77 556.19L668.38 562.69L661.17 562.69Z" fill="none" stroke="#72aa2e" stroke-width="1.25" stroke-linejoin="miter"/>
<path d="M683.43 572.41L687.03 578.91L679.83 578.91Z" fill="none" stroke="#72aa2e" stroke-width="1.25" stroke-linejoin="miter"/>
<path d="M702.09 551.35L705.69 557.85L698.49 557.85Z" fill="none" stroke="#72aa2e" stroke-width="1.25" stroke-linejoin="miter"/>
<path d="M720.74 576.52L724.34 583.02L717.14 583.02Z" fill="none" stroke="#72aa2e" stroke-width="1.25" stroke-linejoin="miter"/>
<path d="M739.40 587.17L743.00 593.67L735.80 593.67Z" fill="none" stroke="#72aa2e" stroke-width="1.25" stroke-linejoin="miter"/>
</g>
<rect x="440.9" y="372.3" width="298.50" height="242.00" fill="none" stroke="#606060" stroke-width="1.3"/>
<path d="M478.21 614.3v-3.2M478.21 372.3v3.2M515.52 614.3v-3.2M515.52 372.3v3.2M552.84 614.3v-3.2M552.84 372.3v3.2M590.15 614.3v-3.2M590.15 372.3v3.2M627.46 614.3v-3.2M627.46 372.3v3.2M664.77 614.3v-3.2M664.77 372.3v3.2M702.09 614.3v-3.2M702.09 372.3v3.2M440.9 565.90h3.2M739.4 565.90h-3.2M440.9 517.50h3.2M739.4 517.50h-3.2M440.9 469.10h3.2M739.4 469.10h-3.2M440.9 420.70h3.2M739.4 420.70h-3.2" stroke="#606060" stroke-width="1.2" fill="none"/>
<text x="438.60" y="634.90" text-anchor="middle" font-size="16" fill="#222">0</text>
<text x="475.91" y="634.90" text-anchor="middle" font-size="16" fill="#222">2</text>
<text x="513.23" y="634.90" text-anchor="middle" font-size="16" fill="#222">4</text>
<text x="550.54" y="634.90" text-anchor="middle" font-size="16" fill="#222">6</text>
<text x="587.85" y="634.90" text-anchor="middle" font-size="16" fill="#222">8</text>
<text x="628.26" y="634.90" text-anchor="middle" font-size="16" fill="#222">10</text>
<text x="665.57" y="634.90" text-anchor="middle" font-size="16" fill="#222">12</text>
<text x="702.89" y="634.90" text-anchor="middle" font-size="16" fill="#222">14</text>
<text x="740.20" y="634.90" text-anchor="middle" font-size="16" fill="#222">16</text>
<text x="421.30" y="620.60" text-anchor="middle" font-size="16.2" fill="#222">0</text>
<text x="421.30" y="572.20" text-anchor="middle" font-size="16.2" fill="#222">20</text>
<text x="421.30" y="523.80" text-anchor="middle" font-size="16.2" fill="#222">40</text>
<text x="421.30" y="475.40" text-anchor="middle" font-size="16.2" fill="#222">60</text>
<text x="421.30" y="427.00" text-anchor="middle" font-size="16.2" fill="#222">80</text>
<text x="421.30" y="378.60" text-anchor="middle" font-size="16.2" fill="#222">100</text>
<text x="581.60" y="657.30" text-anchor="middle" font-size="18.8" fill="#111">Depth (Å)</text>
<text transform="translate(402.30,487.40) rotate(-90)" text-anchor="middle" font-size="16" fill="#111"><tspan font-style="italic">sp</tspan><tspan font-size="10.5" dy="-5.8">3</tspan><tspan dy="5.8"> content (%)</tspan></text>
<text x="733.40" y="397.50" text-anchor="end" font-size="18.4" fill="#111">Interference = 6 Å</text>
<text x="733.30" y="605.90" text-anchor="end" font-size="23.2" fill="#111">(d)</text>
<text x="56.5" y="241" font-size="13.2" font-weight="bold" fill="#111">Sliding distance (Å)</text>
<line x1="57" y1="250.6" x2="120" y2="250.6" stroke="#000000" stroke-width="1.8"/>
<circle cx="88.50" cy="250.60" r="3.65" fill="none" stroke="#000000" stroke-width="1.55"/>
<line x1="57" y1="265.2" x2="120" y2="265.2" stroke="#1010e8" stroke-width="1.8"/>
<rect x="85.25" y="261.95" width="6.50" height="6.50" fill="none" stroke="#1010e8" stroke-width="1.55"/>
<line x1="57" y1="279.9" x2="120" y2="279.9" stroke="#cc1418" stroke-width="1.8"/>
<path d="M89.00 274.70L92.60 279.90L89.00 285.10L85.40 279.90Z" fill="none" stroke="#cc1418" stroke-width="1.55"/>
<line x1="57" y1="297.0" x2="120" y2="297.0" stroke="#72aa2e" stroke-width="1.8"/>
<path d="M88.50 292.10L92.90 299.70L84.10 299.70Z" fill="none" stroke="#72aa2e" stroke-width="1.55" stroke-linejoin="miter"/>
<text x="124.8" y="255.6" font-size="15.2" fill="#111">0</text>
<text x="124.8" y="270.5" font-size="15.2" fill="#111">20</text>
<text x="124.8" y="285.4" font-size="15.2" fill="#111">40</text>
<text x="124.8" y="300.3" font-size="15.2" fill="#111">separation</text>
<text y="20.8" font-size="27.5" fill="#111"><tspan x="156.8">39%</tspan><tspan x="220.8" font-style="italic">sp</tspan></text><text transform="translate(249.6,11.2) scale(1.25,1)" font-size="12.8" fill="#111" stroke="#111" stroke-width="0.25">3</text>
<text x="207" y="53.4" text-anchor="middle" font-size="27.5" fill="#111">Vacuum</text>
<text y="20.8" font-size="27.5" fill="#111"><tspan x="527.2">66%</tspan><tspan x="591.5" font-style="italic">sp</tspan></text><text transform="translate(620.4,11.2) scale(1.25,1)" font-size="12.8" fill="#111" stroke="#111" stroke-width="0.25">3</text>
<text x="578" y="53.4" text-anchor="middle" font-size="27.5" fill="#111">Vacuum</text>
</svg>
</body></html>
